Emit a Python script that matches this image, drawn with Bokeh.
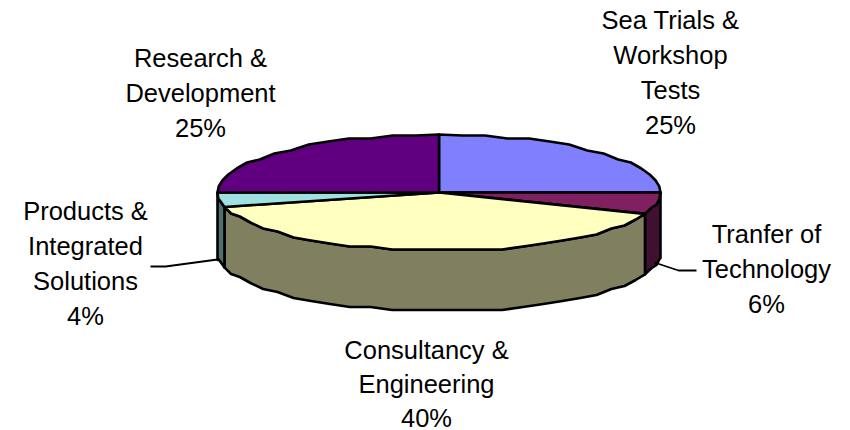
import numpy as np
from bokeh.plotting import figure
from bokeh.models import Range1d
from bokeh.core.properties import value
from bokeh.embed import file_html
from bokeh.resources import INLINE

categories = ["Sea Trials & Workshop Tests", "Tranfer of Technology", "Consultancy & Engineering",
              "Products & Integrated Solutions", "Research & Development"]
shares = [25, 6, 40, 4, 25]
top_colors = ["#8080FF", "#802060", "#FFFFC0", "#A0E0E0", "#600080"]
side_colors = ["#404080", "#401030", "#808060", "#507070", "#300040"]
label_lines = [["Sea Trials &", "Workshop", "Tests", "25%"],
               ["Tranfer of", "Technology", "6%"],
               ["Consultancy &", "Engineering", "40%"],
               ["Products &", "Integrated", "Solutions", "4%"],
               ["Research &", "Development", "25%"]]
label_x = [670, 766, 426, 85, 200]
label_y0 = [19, 233, 349, 210, 57]
line_steps = [35, 35, 34, 35, 35]

CX, CY, RX, RY, DEPTH = 438.5, 192, 221.5, 58, 60.5
Q = 3.0

p = figure(width=850, height=430, output_backend="svg", toolbar_location=None,
           x_range=Range1d(0, 850), y_range=Range1d(430, 0), min_border=0,
           outline_line_color=None, background_fill_color="white", border_fill_color="white")
p.axis.visible = False
p.grid.visible = False


def pt(theta, dy=0.0, snap=False):
    x = CX + RX * np.sin(theta)
    y = CY - RY * np.cos(theta)
    if snap:
        y = np.round(y / Q) * Q
    return x, y + dy


def arc(a, b, dy=0.0):
    n = max(2, int(abs(b - a) / np.radians(6)) + 1)
    th = np.linspace(a, b, n + 1)
    xs, ys = [], []
    for i, t in enumerate(th):
        x, y = pt(t, dy, snap=0 < i < n)
        xs.append(float(x))
        ys.append(float(y))
    return xs, ys


edges = 2 * np.pi * np.cumsum([0] + shares) / sum(shares)

for i in range(len(shares)):
    a, b = max(edges[i], np.pi / 2), min(edges[i + 1], 3 * np.pi / 2)
    if b <= a:
        continue
    xs, ys = arc(a, b)
    xb, yb = arc(a, b, DEPTH)
    if abs(a - np.pi / 2) < 1e-6:
        yb[0] += 5
    if abs(b - 3 * np.pi / 2) < 1e-6:
        yb[-1] += 7
    p.patch(xs + xb[::-1], ys + yb[::-1], fill_color=side_colors[i], line_color="black",
            line_width=2.6, line_join="round")

for i in range(len(shares)):
    xs, ys = arc(edges[i], edges[i + 1])
    p.patch([CX] + xs, [CY] + ys, fill_color=top_colors[i], line_color="black",
            line_width=2.6, line_join="round")

p.line([654, 678, 696], [262, 270, 270], line_color="black", line_width=1.8)
p.line([217, 165, 150], [259, 266, 266], line_color="black", line_width=1.8)

for lines, x, y0, step in zip(label_lines, label_x, label_y0, line_steps):
    for j, t in enumerate(lines):
        p.text([x], [y0 + j * step], text=[t], text_font=value("Liberation Sans"),
               text_font_size="25.5px", text_color="black", text_align="center",
               text_baseline="middle")

open("out.html", "w").write(file_html(p, INLINE))
